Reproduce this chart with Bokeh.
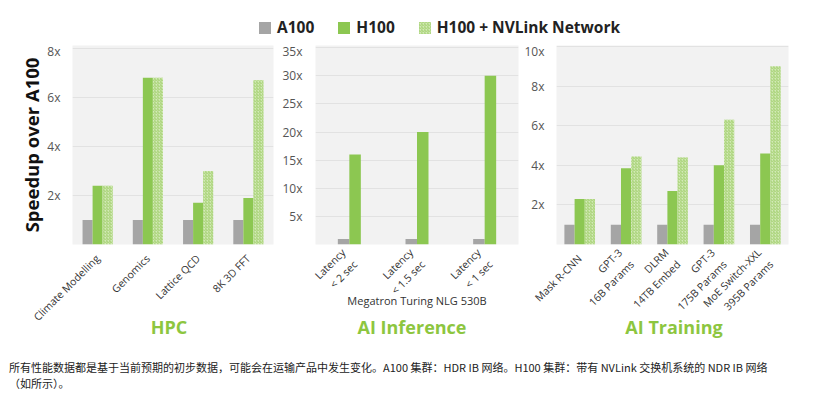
import math
from bokeh.plotting import figure
from bokeh.models import (FactorRange, FixedTicker, PrintfTickFormatter, Legend, LegendItem,
                          Range1d, ColumnDataSource, Div)
from bokeh.layouts import row, column
from bokeh.transform import dodge
from bokeh.embed import file_html
from bokeh.resources import INLINE

# ---------------- data ----------------
series = ["A100", "H100", "H100 + NVLink Network"]

hpc_cats = ["Climate Modelling", "Genomics", "Lattice QCD", "8K 3D FFT"]
hpc_a100 = [1.0, 1.0, 1.0, 1.0]
hpc_h100 = [2.4, 6.8, 1.7, 1.9]
hpc_nvl = [2.4, 6.8, 3.0, 6.7]
hpc_ticks = [2, 4, 6, 8]

inf_cats = ["Latency\n< 2 sec", "Latency\n< 1.5 sec", "Latency\n< 1 sec"]
inf_a100 = [1.0, 1.0, 1.0]
inf_h100 = [16.0, 20.0, 30.0]
inf_ticks = [5, 10, 15, 20, 25, 30, 35]
inf_xlabel = "Megatron Turing NLG 530B"

trn_cats = ["Mask R-CNN", "GPT-3\n16B Params", "DLRM\n14TB Embed",
            "GPT-3\n175B Params", "MoE Switch-XXL\n395B Params"]
trn_a100 = [1.0, 1.0, 1.0, 1.0, 1.0]
trn_h100 = [2.3, 3.85, 2.7, 4.0, 4.6]
trn_nvl = [2.3, 4.45, 4.4, 6.3, 9.0]
trn_ticks = [2, 4, 6, 8, 10]

panel_titles = ["HPC", "AI Inference", "AI Training"]
y_title = "Speedup over A100"
footnote_1 = "所有性能数据都是基于当前预期的初步数据，可能会在运输产品中发生变化。A100 集群：HDR IB 网络。H100 集群：带有 NVLink 交换机系统的 NDR IB 网络"
footnote_2 = "（如所示）。"

# legend proxy bars (zero height, never visible)
legend_proxy_x = [0.0]
legend_proxy_top = [0.0]

# ---------------- styles ----------------
GRAY = "#a5a5a5"
GREEN = "#8cc751"
NVL_FILL = "#d2eab6"
NVL_HATCH = "#a6d173"
TITLE_GREEN = "#8dc63f"
FONT = "Open Sans"

styles = {
    "A100": dict(fill_color=GRAY, line_color=None),
    "H100": dict(fill_color=GREEN, line_color=None),
    "NVL": dict(fill_color=NVL_FILL, line_color=None, hatch_pattern="right_diagonal_line",
                hatch_color=NVL_HATCH, hatch_scale=3, hatch_weight=1),
}


def panel(cats, cols, offsets, bar_w, ticks, ymax, frame_w, mb_left, mb_right,
          ylabel=None, xlabel=None, ystand=12):
    p = figure(x_range=FactorRange(factors=cats), y_range=Range1d(0, ymax),
               frame_width=frame_w, frame_height=199,
               min_border_left=mb_left, min_border_right=mb_right,
               min_border_top=3, min_border_bottom=71,
               output_backend="svg", toolbar_location=None,
               background_fill_color="#f2f2f2", border_fill_color="white",
               outline_line_color=None)
    data = dict(cat=cats)
    for key, vals in cols:
        data[key] = vals
    src = ColumnDataSource(data)
    for (key, vals), off in zip(cols, offsets):
        p.vbar(x=dodge("cat", off, range=p.x_range), top=key, width=bar_w, source=src,
               **styles[key])
    p.xgrid.grid_line_color = None
    p.ygrid.grid_line_color = "#e2e2e2"
    p.yaxis.ticker = FixedTicker(ticks=ticks)
    p.yaxis.formatter = PrintfTickFormatter(format="%dx")
    p.yaxis.axis_line_color = None
    p.yaxis.major_tick_line_color = None
    p.yaxis.minor_tick_line_color = None
    p.yaxis.major_tick_out = 0
    p.yaxis.major_tick_in = 0
    p.yaxis.major_label_standoff = ystand
    p.yaxis.major_label_text_font = FONT
    p.yaxis.major_label_text_font_size = "12px"
    p.yaxis.major_label_text_color = "#555555"
    p.xaxis.axis_line_color = None
    p.xaxis.major_tick_line_color = None
    p.xaxis.major_tick_out = 0
    p.xaxis.major_tick_in = 0
    p.xaxis.major_label_orientation = math.pi / 4
    p.xaxis.major_label_standoff = 12
    p.xaxis.major_label_text_font = FONT
    p.xaxis.major_label_text_font_size = "10.5px"
    p.xaxis.major_label_text_color = "#333333"
    if ylabel:
        p.yaxis.axis_label = ylabel
        p.yaxis.axis_label_text_font = FONT
        p.yaxis.axis_label_text_font_size = "18.5px"
        p.yaxis.axis_label_text_font_style = "bold"
        p.yaxis.axis_label_text_color = "#111111"
        p.yaxis.axis_label_standoff = 0
    if xlabel:
        p.xaxis.axis_label = xlabel
        p.xaxis.axis_label_text_font = FONT
        p.xaxis.axis_label_text_font_size = "11px"
        p.xaxis.axis_label_text_font_style = "normal"
        p.xaxis.axis_label_text_color = "#333333"
        p.xaxis.axis_label_standoff = -18
    return p


f1 = panel(hpc_cats, [("A100", hpc_a100), ("H100", hpc_h100), ("NVL", hpc_nvl)],
           [-0.2, 0.0, 0.2], 0.2, hpc_ticks, 8.12, 201, 72, 5, ylabel=y_title)
f2 = panel(inf_cats, [("A100", inf_a100), ("H100", inf_h100)],
           [-0.085, 0.085], 0.17, inf_ticks, 35.4, 203, 37, 2, xlabel=inf_xlabel, ystand=13)
f3 = panel(trn_cats, [("A100", trn_a100), ("H100", trn_h100), ("NVL", trn_nvl)],
           [-0.22, 0.0, 0.22], 0.22, trn_ticks, 10.05, 232, 36, 40)

# ---------------- legend strip ----------------
lg = figure(width=828, height=42, x_range=Range1d(1, 2), y_range=Range1d(1, 2),
            x_axis_location=None, y_axis_location=None, min_border=0,
            output_backend="svg", toolbar_location=None, outline_line_color=None)
lg.grid.visible = False
proxy = ColumnDataSource(dict(x=legend_proxy_x, top=legend_proxy_top))
rs = [lg.vbar(x="x", top="top", width=0.1, source=proxy, **styles[k])
      for k in ["A100", "H100", "NVL"]]
legend = Legend(items=[LegendItem(label=s, renderers=[r]) for s, r in zip(series, rs)],
                location=(257, 4), orientation="horizontal",
                glyph_width=15, glyph_height=15, label_standoff=5, spacing=22,
                padding=0, margin=0, border_line_color=None, background_fill_alpha=0,
                label_text_font=FONT, label_text_font_size="15.5px",
                label_text_font_style="bold", label_text_color="#222222")
lg.add_layout(legend, "center")

# ---------------- titles & footnote ----------------
centers = [169, 412, 674]
spans = "".join(
    f'<span style="position:absolute;left:{c}px;top:0;transform:translateX(-50%);white-space:nowrap;">{t}</span>'
    for c, t in zip(centers, panel_titles))
titles = Div(text=f'<div style="position:relative;width:828px;height:24px;font-family:\'Open Sans\';'
                  f'font-weight:bold;font-size:18px;line-height:24px;color:{TITLE_GREEN};">{spans}</div>',
             width=828, height=24, margin=(-20, 0, 0, 0))

foot = Div(text=f'<div style="font-family:\'Noto Sans CJK SC\';font-size:11px;line-height:16px;'
                f'color:#222222;white-space:nowrap;">{footnote_1}<br>{footnote_2}</div>',
           width=819, height=32, margin=(20, 0, 0, 9))

layout = column(lg, row(f1, f2, f3, spacing=0), titles, foot, spacing=0)

open("out.html", "w").write(file_html(layout, INLINE))
